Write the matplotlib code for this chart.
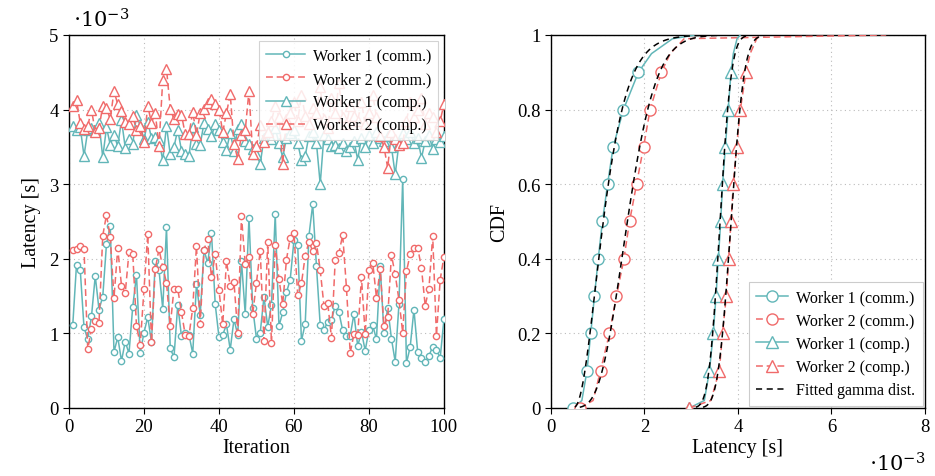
import math
import numpy as np
import matplotlib
matplotlib.use("Agg")
import matplotlib.pyplot as plt

plt.rcParams['font.family'] = ['Liberation Serif', 'DejaVu Serif']
plt.rcParams['mathtext.fontset'] = 'dejavuserif'

# ---------------- data (values in 1e-3 s) ----------------
iterations = list(range(1, 101))

w1_comm = [1.11, 1.92, 1.85, 1.08, 0.92, 1.23, 1.77, 1.32, 1.49, 2.20,
           2.44, 0.75, 0.95, 0.63, 0.89, 0.73, 1.36, 1.78, 0.74, 1.01,
           1.22, 0.88, 1.97, 1.85, 1.33, 2.42, 0.80, 0.68, 1.38, 0.96,
           1.00, 0.98, 0.73, 1.66, 1.25, 2.12, 1.94, 2.35, 1.39, 0.95,
           0.98, 1.12, 0.78, 1.19, 0.98, 1.97, 1.26, 2.55, 1.34, 0.93,
           1.01, 1.49, 1.09, 1.38, 2.60, 1.10, 1.28, 1.55, 1.72, 2.25,
           2.18, 0.90, 1.13, 2.31, 2.73, 1.90, 1.11, 1.05, 1.15, 1.18,
           1.37, 1.28, 1.04, 0.97, 0.97, 1.26, 0.83, 1.02, 0.77, 1.05,
           1.11, 0.92, 1.90, 1.01, 1.34, 0.93, 0.62, 1.39, 3.07, 0.60,
           0.82, 1.32, 0.75, 0.67, 0.61, 0.70, 0.82, 0.78, 0.67, 1.19]

w2_comm = [2.12, 2.13, 2.17, 2.13, 0.79, 1.06, 1.17, 1.14, 2.31, 2.59,
           2.29, 1.48, 2.14, 1.64, 1.54, 2.09, 2.07, 1.10, 0.85, 1.59,
           2.33, 0.88, 1.86, 2.13, 1.89, 1.68, 1.10, 1.60, 1.60, 1.28,
           0.98, 0.97, 1.34, 2.17, 1.12, 2.12, 2.27, 1.75, 2.06, 1.58,
           1.12, 1.97, 1.63, 1.69, 1.01, 2.57, 1.93, 2.03, 1.26, 1.68,
           2.11, 0.90, 2.22, 0.87, 2.19, 1.73, 1.39, 1.99, 2.28, 2.35,
           1.51, 1.67, 2.04, 2.23, 2.10, 2.21, 1.85, 1.37, 1.41, 0.94,
           1.98, 2.08, 2.32, 1.61, 0.74, 0.99, 0.98, 1.75, 0.99, 1.85,
           1.95, 1.48, 1.86, 1.10, 1.22, 2.05, 1.79, 1.45, 1.01, 1.83,
           2.06, 2.15, 2.15, 1.88, 1.37, 1.60, 2.31, 0.97, 1.72, 2.03]

w1_comp = [3.78, 3.73, 3.76, 3.38, 3.72, 3.75, 3.73, 3.82, 3.36, 3.76,
           3.53, 3.66, 3.51, 3.86, 3.49, 3.61, 3.54, 3.93, 3.78, 3.60,
           3.84, 3.62, 3.63, 3.59, 3.32, 3.78, 3.40, 3.50, 3.73, 3.45,
           3.40, 3.38, 3.76, 3.54, 3.53, 3.82, 3.74, 3.64, 3.81, 3.73,
           3.57, 3.46, 3.69, 3.45, 3.74, 3.80, 3.58, 3.54, 3.47, 3.41,
           3.27, 3.62, 3.70, 3.60, 3.75, 3.55, 3.36, 3.62, 3.68, 3.72,
           3.55, 3.32, 3.38, 3.65, 3.70, 3.55, 3.00, 3.66, 3.60, 3.51,
           3.52, 3.48, 3.55, 3.45, 3.50, 3.58, 3.33, 3.62, 3.50, 3.66,
           3.55, 3.70, 3.62, 3.58, 3.65, 3.50, 3.13, 3.55, 3.68, 3.60,
           3.70, 3.55, 3.62, 3.35, 3.58, 3.66, 3.47, 3.60, 3.56, 3.64]

w2_comp = [4.05, 4.13, 3.82, 3.74, 3.78, 4.00, 3.70, 3.75, 4.05, 4.02,
           3.87, 4.25, 4.07, 3.98, 3.84, 3.80, 3.91, 3.73, 3.78, 3.57,
           4.05, 3.82, 3.96, 3.51, 4.40, 4.55, 4.01, 3.87, 3.94, 3.93,
           3.67, 3.67, 3.97, 3.66, 3.96, 4.01, 4.09, 4.14, 4.07, 4.00,
           3.70, 3.95, 4.21, 3.54, 3.34, 3.66, 3.72, 4.25, 3.40, 3.51,
           3.79, 3.56, 3.70, 3.85, 4.05, 3.90, 3.27, 3.88, 3.95, 4.10,
           3.85, 4.20, 3.92, 3.80, 4.02, 3.95, 4.30, 3.88, 3.75, 4.15,
           3.95, 4.35, 3.90, 3.80, 4.05, 3.92, 3.85, 4.10, 3.80, 3.95,
           4.20, 3.90, 3.65, 3.50, 3.22, 3.70, 3.60, 3.52, 3.55, 3.85,
           4.10, 3.90, 4.00, 4.15, 3.80, 3.95, 3.90, 3.70, 3.85, 4.07]

# empirical CDF (right panel): cumulative probability levels and latency at each level
cdf_levels = [0.0, 0.02, 0.1, 0.2, 0.3, 0.4, 0.5, 0.6, 0.7, 0.8, 0.9, 0.95, 0.99, 1.0]
cdf_w1_comm = [0.48, 0.66, 0.77, 0.85, 0.93, 1.01, 1.10, 1.21, 1.33, 1.55, 1.87, 2.15, 2.60, 3.10]
cdf_w2_comm = [0.62, 0.90, 1.06, 1.25, 1.40, 1.56, 1.68, 1.83, 1.98, 2.12, 2.36, 2.55, 2.85, 7.17]
cdf_w1_comp = [2.96, 3.28, 3.39, 3.47, 3.53, 3.58, 3.63, 3.67, 3.73, 3.79, 3.85, 3.90, 3.98, 4.05]
cdf_w2_comp = [2.95, 3.42, 3.60, 3.67, 3.75, 3.80, 3.85, 3.90, 3.97, 4.05, 4.17, 4.26, 4.40, 4.50]
marked_levels = [0.0, 0.1, 0.2, 0.3, 0.4, 0.5, 0.6, 0.7, 0.8, 0.9]

# fitted gamma distributions: (shape, scale, location) in 1e-3 s
gamma_w1_comm = (3.0, 0.25, 0.45)
gamma_w2_comm = (12.0, 0.14, 0.0)
gamma_w1_comp = (363.0, 0.00997, 0.0)
gamma_w2_comp = (306.0, 0.0126, 0.0)

labels = ["Worker 1 (comm.)", "Worker 2 (comm.)", "Worker 1 (comp.)", "Worker 2 (comp.)"]
fit_label = "Fitted gamma dist."

# ---------------- styles ----------------
TEAL = "#62b6b8"
RED = "#f06a6a"
DASH = (0, (4.5, 2.5))


def gamma_cdf(x, k, theta, loc):
    z = np.asarray(x) - loc
    pdf = np.zeros_like(z)
    pos = z > 0
    zp = z[pos]
    logpdf = (k - 1) * np.log(zp) - zp / theta - math.lgamma(k) - k * np.log(theta)
    pdf[pos] = np.exp(logpdf)
    cdf = np.concatenate([[0.0], np.cumsum(0.5 * (pdf[1:] + pdf[:-1]) * np.diff(z))])
    return np.clip(cdf / max(cdf[-1], 1e-12), 0, 1)


fig = plt.figure(figsize=(9.35, 4.77), dpi=100)
ax1 = fig.add_axes([0.0738, 0.1426, 0.401, 0.782])
ax2 = fig.add_axes([0.5893, 0.1426, 0.400, 0.782])

it = np.array(iterations)
lw = 1.1
ax1.plot(it, w1_comm, color=TEAL, ls='-', lw=lw, marker='o', ms=4.5, mfc='white',
         mec=TEAL, mew=1.0, label=labels[0], zorder=3)
ax1.plot(it, w2_comm, color=RED, ls=DASH, lw=lw, marker='o', ms=4.5, mfc='white',
         mec=RED, mew=1.0, label=labels[1], zorder=3)
ax1.plot(it, w1_comp, color=TEAL, ls='-', lw=lw, marker='^', ms=6.8, mfc='white',
         mec=TEAL, mew=1.0, label=labels[2], zorder=3)
ax1.plot(it, w2_comp, color=RED, ls=DASH, lw=lw, marker='^', ms=6.8, mfc='white',
         mec=RED, mew=1.0, label=labels[3], zorder=3)

ax1.set_xlim(0, 100)
ax1.set_ylim(0, 5)
ax1.set_xticks([0, 20, 40, 60, 80, 100])
ax1.set_yticks([0, 1, 2, 3, 4, 5])
ax1.set_xlabel("Iteration", fontsize=14.5, labelpad=2)
ax1.set_ylabel("Latency [s]", fontsize=14.5, labelpad=6)
ax1.text(0.01, 1.01, r"$\cdot 10^{-3}$", transform=ax1.transAxes, fontsize=15,
         ha='left', va='bottom')
leg1 = ax1.legend(loc='upper right', fontsize=11.5, frameon=True, fancybox=False,
                  framealpha=0.85, edgecolor='#cccccc', borderpad=0.45,
                  handlelength=2.4, labelspacing=0.45, borderaxespad=0.35,
                  handletextpad=0.5)
leg1.get_frame().set_linewidth(0.8)

# right panel
for xs, col, ls, mk, lab in [(cdf_w1_comm, TEAL, '-', 'o', labels[0]),
                              (cdf_w2_comm, RED, DASH, 'o', labels[1]),
                              (cdf_w1_comp, TEAL, '-', '^', labels[2]),
                              (cdf_w2_comp, RED, DASH, '^', labels[3])]:
    mev = [i for i, lv in enumerate(cdf_levels) if lv in marked_levels]
    ax2.plot(xs, cdf_levels, color=col, ls=ls, lw=lw, marker=mk, ms=8, mfc='white',
             mec=col, mew=1.0, markevery=mev, label=lab, zorder=3)

xg = np.linspace(0, 8, 4001)
first = True
for k, th, loc in [gamma_w1_comm, gamma_w2_comm, gamma_w1_comp, gamma_w2_comp]:
    c = gamma_cdf(xg, k, th, loc)
    keep = (c > 0.002) & (c < 0.9995)
    ax2.plot(xg[keep], c[keep], color='black', ls=(0, (4, 3)), lw=1.1, zorder=4,
             label=fit_label if first else None)
    first = False

ax2.set_xlim(0, 8)
ax2.set_ylim(0, 1)
ax2.set_xticks([0, 2, 4, 6, 8])
ax2.set_yticks([0, 0.2, 0.4, 0.6, 0.8, 1.0])
ax2.set_yticklabels(["0", "0.2", "0.4", "0.6", "0.8", "1"])
ax2.set_xlabel("Latency [s]", fontsize=14.5, labelpad=2)
ax2.set_ylabel("CDF", fontsize=14.5, labelpad=6)
ax2.text(1.0, -0.12, r"$\cdot 10^{-3}$", transform=ax2.transAxes, fontsize=15,
         ha='right', va='top')
leg2 = ax2.legend(loc='lower right', fontsize=11.5, frameon=True, fancybox=False,
                  framealpha=1.0, edgecolor='#cccccc', borderpad=0.45,
                  handlelength=2.0, labelspacing=0.45, borderaxespad=0.15,
                  handletextpad=0.5)
leg2.get_frame().set_linewidth(0.8)

for ax in (ax1, ax2):
    ax.grid(True, ls=(0, (1, 3)), color='#bbbbbb', lw=0.8)
    ax.set_axisbelow(True)
    ax.tick_params(direction='out', length=4, width=0.8, labelsize=13.5,
                   top=False, right=False)
    for sp in ax.spines.values():
        sp.set_linewidth(1.0)

fig.savefig("out.png", dpi=100)
